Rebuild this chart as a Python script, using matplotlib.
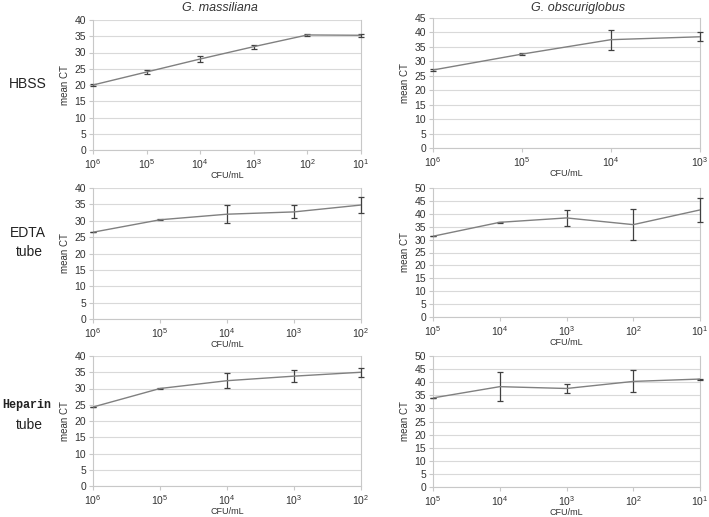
import matplotlib
matplotlib.use("Agg")
import matplotlib.pyplot as plt

plt.rcParams["font.family"] = ["Liberation Sans", "DejaVu Sans"]
plt.rcParams["mathtext.fontset"] = "custom"
plt.rcParams["mathtext.rm"] = "Liberation Sans"

# Data (CFU/mL categories, mean CT, error)
hbss_mass_x = ["6", "5", "4", "3", "2", "1"]
hbss_mass_y = [20.0, 24.0, 28.0, 31.8, 35.4, 35.3]
hbss_mass_err = [0.3, 0.6, 0.8, 0.6, 0.2, 0.5]

hbss_obsc_x = ["6", "5", "4", "3"]
hbss_obsc_y = [27.0, 32.5, 37.5, 38.5]
hbss_obsc_err = [0.2, 0.3, 3.5, 1.6]

edta_mass_x = ["6", "5", "4", "3", "2"]
edta_mass_y = [26.5, 30.3, 32.0, 32.7, 34.8]
edta_mass_err = [0.0, 0.2, 2.7, 2.0, 2.4]

edta_obsc_x = ["5", "4", "3", "2", "1"]
edta_obsc_y = [31.3, 36.7, 38.4, 35.8, 41.5]
edta_obsc_err = [0.0, 0.1, 3.0, 6.0, 4.7]

hep_mass_x = ["6", "5", "4", "3", "2"]
hep_mass_y = [24.3, 30.0, 32.4, 33.8, 35.0]
hep_mass_err = [0.0, 0.1, 2.3, 1.8, 1.4]

hep_obsc_x = ["5", "4", "3", "2", "1"]
hep_obsc_y = [34.0, 38.3, 37.6, 40.3, 41.2]
hep_obsc_err = [0.0, 5.5, 1.8, 4.2, 0.2]

W, H = 709, 517
fig = plt.figure(figsize=(W / 100, H / 100), dpi=100)


def make_axes(x0, x1, ytop, ybot):
    return fig.add_axes([x0 / W, 1 - ybot / H, (x1 - x0) / W, (ybot - ytop) / H])


def draw(ax, cats, vals, errs, ymax):
    pos = list(range(len(cats)))
    _, caps, bars = ax.errorbar(pos, vals, yerr=errs, color="#808080", lw=1.0,
                                ecolor="#404040", elinewidth=0.9, capsize=2,
                                capthick=0.9, zorder=3)
    for art in list(caps) + list(bars):
        art.set_clip_on(False)
    ax.set_xlim(0, len(cats) - 1)
    ax.set_ylim(0, ymax)
    ax.set_yticks(range(0, ymax + 1, 5))
    ax.set_xticks(pos)
    ax.set_xticklabels([f"$10^{{{c}}}$" for c in cats])
    ax.grid(axis="y", color="#d9d9d9", lw=0.8)
    ax.set_axisbelow(True)
    for s in ["left", "bottom", "right"]:
        ax.spines[s].set_color("#c8c8c8")
        ax.spines[s].set_linewidth(0.8)
    ax.spines["top"].set_visible(False)
    ax.tick_params(labelsize=7.5, colors="#c8c8c8", labelcolor="#333333",
                   length=3, width=0.8, pad=2)
    ax.set_ylabel("mean CT", fontsize=7, color="#333333", labelpad=3)
    ax.set_xlabel("CFU/mL", fontsize=6.5, color="#333333", labelpad=0)


ax = make_axes(93, 361, 20, 150)
draw(ax, hbss_mass_x, hbss_mass_y, hbss_mass_err, 40)
ax = make_axes(433, 700, 18, 148)
draw(ax, hbss_obsc_x, hbss_obsc_y, hbss_obsc_err, 45)
ax = make_axes(93, 361, 188, 319)
draw(ax, edta_mass_x, edta_mass_y, edta_mass_err, 40)
ax = make_axes(433, 700, 188, 317)
draw(ax, edta_obsc_x, edta_obsc_y, edta_obsc_err, 50)
ax = make_axes(93, 361, 356, 486)
draw(ax, hep_mass_x, hep_mass_y, hep_mass_err, 40)
ax = make_axes(433, 700, 356, 487)
draw(ax, hep_obsc_x, hep_obsc_y, hep_obsc_err, 50)

# Column titles
fig.text(220 / W, 1 - 8 / H, "G. massiliana", fontsize=9, style="italic",
         ha="center", va="center", color="#333333")
fig.text(578 / W, 1 - 8 / H, "G. obscuriglobus", fontsize=9, style="italic",
         ha="center", va="center", color="#333333")

# Row labels
fig.text(28 / W, 1 - 84 / H, "HBSS", fontsize=10, ha="center", va="center",
         color="#222222")
fig.text(28 / W, 1 - 233 / H, "EDTA", fontsize=10, ha="center", va="center",
         color="#222222")
fig.text(29 / W, 1 - 252 / H, "tube", fontsize=10, ha="center", va="center",
         color="#222222")
fig.text(27 / W, 1 - 405 / H, "Heparin", fontsize=8.5, ha="center",
         va="center", family="Liberation Mono", weight="bold", color="#222222")
fig.text(29 / W, 1 - 425 / H, "tube", fontsize=10, ha="center", va="center",
         color="#222222")

fig.savefig("out.png", dpi=100)
